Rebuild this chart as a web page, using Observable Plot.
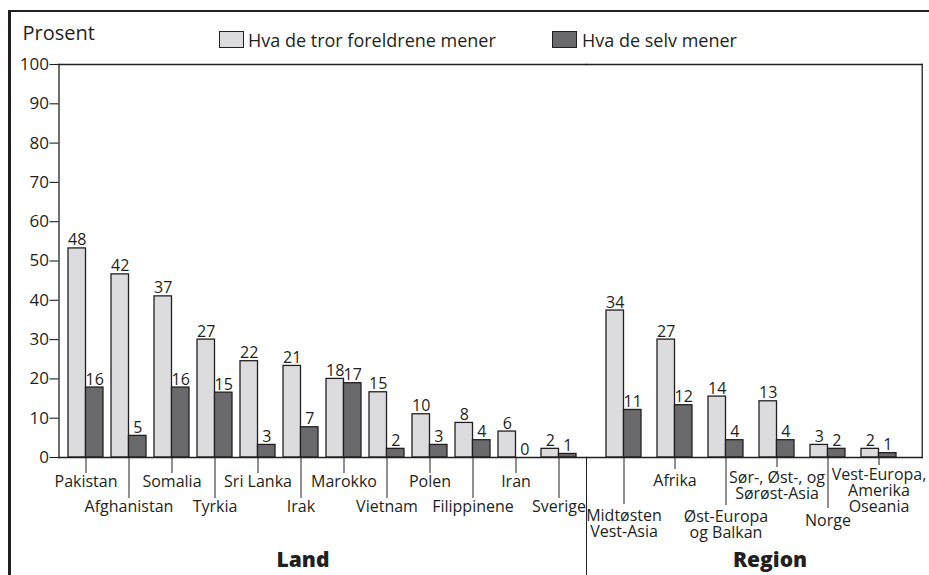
<!DOCTYPE html>
<html>
<head>
<meta charset="utf-8">
<script src="https://cdn.jsdelivr.net/npm/d3@7"></script>
<script src="https://cdn.jsdelivr.net/npm/@observablehq/plot@0.6"></script>
<style>
  body { margin: 0; background: #fff; font-family: "Open Sans", sans-serif; color: #231f20; }
  #wrap { position: relative; width: 929px; height: 575px; overflow: hidden; background: #fff; }
  #border { position: absolute; left: 7.5px; top: 9.5px; width: 1000px; height: 700px;
            border-left: 3px solid #231f20; border-top: 2.5px solid #231f20; }
  .abs { position: absolute; white-space: nowrap; font-weight: 500; }
  #prosent { left: 22.5px; top: 21px; font-size: 20px; line-height: 24px; }
  .sw { position: absolute; box-sizing: border-box; border: 1.3px solid #231f20; width: 25px; height: 17.5px; top: 30.5px; }
  .leg { top: 28px; font-size: 18px; line-height: 24px; }
  .big { font-weight: 800; font-size: 21px; line-height: 26px; top: 546px; transform: translateX(-50%); }
  #sep { position: absolute; left: 585.5px; top: 457px; width: 1.3px; height: 130px; background: #231f20; }
  #plotA, #plotB { position: absolute; top: 0; }
  #plotA { left: 0; }
  #plotB { left: 586px; }
</style>
</head>
<body>
<div id="wrap">
  <div id="border"></div>
  <div id="plotA"></div>
  <div id="plotB"></div>
  <div id="sep"></div>
  <div id="prosent" class="abs">Prosent</div>
  <div class="sw" style="left:218.5px;background:#dcdcde"></div>
  <div class="abs leg" style="left:248px">Hva de tror foreldrene mener</div>
  <div class="sw" style="left:552px;background:#6a6a6d"></div>
  <div class="abs leg" style="left:582px">Hva de selv mener</div>
  <div class="abs big" style="left:303px">Land</div>
  <div class="abs big" style="left:770px">Region</div>
</div>
<script>
// ---- Data (bar heights as read against the printed axis; printed value labels) ----
const countries = ["Pakistan", "Afghanistan", "Somalia", "Tyrkia", "Sri Lanka", "Irak",
                   "Marokko", "Vietnam", "Polen", "Filippinene", "Iran", "Sverige"];
const countryParents = [53.2, 46.6, 41.0, 30.0, 24.5, 23.3, 20.0, 16.6, 11.0, 8.8, 6.6, 2.2];
const countrySelf    = [17.8, 5.5, 17.8, 16.5, 3.2, 7.7, 18.9, 2.2, 3.2, 4.4, 0, 0.9];
const countryParentsLabel = [48, 42, 37, 27, 22, 21, 18, 15, 10, 8, 6, 2];
const countrySelfLabel    = [16, 5, 16, 15, 3, 7, 17, 2, 3, 4, 0, 1];

const regions = ["Midtøsten\nVest-Asia", "Afrika", "Øst-Europa\nog Balkan",
                 "Sør-, Øst-, og\nSørøst-Asia", "Norge", "Vest-Europa,\nAmerika\nOseania"];
const regionParents = [37.4, 30.0, 15.5, 14.3, 3.2, 2.2];
const regionSelf    = [12.1, 13.3, 4.4, 4.4, 2.2, 1.1];
const regionParentsLabel = [34, 27, 14, 13, 3, 2];
const regionSelfLabel    = [11, 12, 4, 4, 2, 1];

const yTicks = [0, 10, 20, 30, 40, 50, 60, 70, 80, 90, 100];

// ---- Layout/style constants ----
const INK = "#231f20", LIGHT = "#dcdcde", DARK = "#6a6a6d";
const countryTickSize = [16, 41];           // alternating rows
const regionTickSize = [47, 12, 48, 10, 51, 8];
const regionTickPad  = [5, 5, 5, 4, 6, 3];

const dataA = countries.map((name, i) => ({
  name, parents: countryParents[i], self: countrySelf[i],
  pl: countryParentsLabel[i], sl: countrySelfLabel[i]
}));
const dataB = regions.map((name, i) => ({
  name, parents: regionParents[i], self: regionSelf[i],
  pl: regionParentsLabel[i], sl: regionSelfLabel[i]
}));

const common = {
  height: 575, marginTop: 64, marginBottom: 118,
  style: { fontFamily: "Open Sans, sans-serif", fontSize: "16px", fontWeight: 500, color: INK, background: "transparent", overflow: "visible" }
};

function barMarks(data) {
  return [
    Plot.barY(data, { x: "name", y: "parents", fill: LIGHT, stroke: INK, strokeWidth: 1.3, insetRight: 17.5 }),
    Plot.barY(data, { x: "name", y: "self", fill: DARK, stroke: INK, strokeWidth: 1.3, insetLeft: 17.5 }),
    Plot.text(data, { x: "name", y: "parents", text: "pl", dx: -8.75, dy: -3, lineAnchor: "bottom", fontSize: 16, fill: INK }),
    Plot.text(data, { x: "name", y: "self", text: "sl", dx: 8.75, dy: -3, lineAnchor: "bottom", fontSize: 16, fill: INK })
  ];
}

const plotA = Plot.plot({
  ...common,
  width: 586, marginLeft: 58.5, marginRight: 0,
  x: { type: "band", domain: countries, paddingInner: 0.186, paddingOuter: 0.2256 },
  y: { domain: [0, 100] },
  marks: [
    Plot.frame({ anchor: "left", stroke: INK, strokeWidth: 1.3 }),
    Plot.frame({ anchor: "top", stroke: INK, strokeWidth: 1.3 }),
    ...barMarks(dataA),
    Plot.frame({ anchor: "bottom", stroke: INK, strokeWidth: 1.3 }),
    Plot.axisY(yTicks, { tickSize: 9, tickPadding: 1, fontSize: 17, label: null, stroke: INK, strokeWidth: 1.1 }),
    Plot.axisX(countries.filter((d, i) => i % 2 === 0), { tickSize: countryTickSize[0], tickPadding: 2, fontSize: 16, label: null, stroke: INK, strokeWidth: 1 }),
    Plot.axisX(countries.filter((d, i) => i % 2 === 1), { tickSize: countryTickSize[1], tickPadding: 2, fontSize: 16, label: null, stroke: INK, strokeWidth: 1 })
  ]
});
document.getElementById("plotA").appendChild(plotA);

const plotB = Plot.plot({
  ...common,
  width: 343, marginLeft: 0, marginRight: 7.3,
  x: { type: "band", domain: regions, paddingInner: 0.3146, paddingOuter: 0.4446, align: 0.44 },
  y: { domain: [0, 100], axis: null },
  marks: [
    Plot.frame({ anchor: "right", stroke: INK, strokeWidth: 1.3 }),
    Plot.frame({ anchor: "top", stroke: INK, strokeWidth: 1.3 }),
    ...barMarks(dataB),
    Plot.frame({ anchor: "bottom", stroke: INK, strokeWidth: 1.3 }),
    ...regions.map((r, i) => Plot.axisX([r], {
      tickSize: regionTickSize[i], tickPadding: regionTickPad[i], fontSize: 16,
      lineHeight: 1.0, label: null, stroke: INK, strokeWidth: 1
    }))
  ]
});
document.getElementById("plotB").appendChild(plotB);
</script>
</body>
</html>
